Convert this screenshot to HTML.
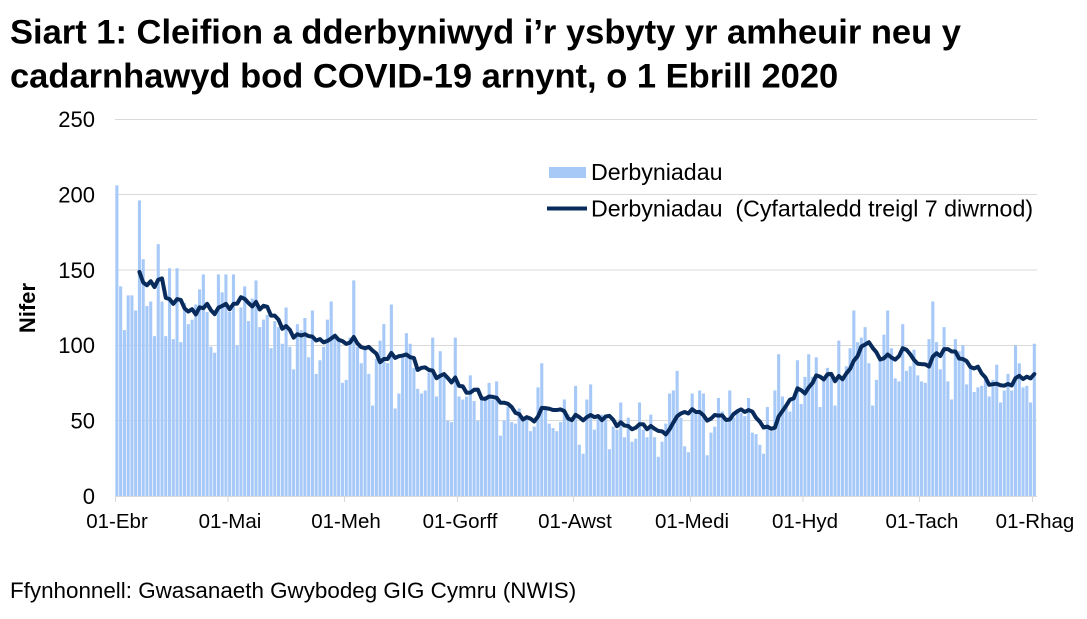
<!DOCTYPE html>
<html>
<head>
<meta charset="utf-8">
<style>
html,body{margin:0;padding:0;background:#fff;}
svg{display:block;}
text{font-family:"Liberation Sans",Arial,sans-serif;fill:#000;}
</style>
</head>
<body>
<svg width="1087" height="619" viewBox="0 0 1087 619" xmlns="http://www.w3.org/2000/svg">
<rect width="1087" height="619" fill="#fff"/>
<!-- Title -->
<text x="10" y="43.5" font-size="34.5" font-weight="bold">Siart 1: Cleifion a dderbyniwyd i’r ysbyty yr amheuir neu y</text>
<text x="10" y="87.3" font-size="34.5" font-weight="bold">cadarnhawyd bod COVID-19 arnynt, o 1 Ebrill 2020</text>

<!-- Gridlines -->
<g stroke="#d9d9d9" stroke-width="1">
<line x1="115" y1="119.5" x2="1037" y2="119.5"/>
<line x1="115" y1="194.5" x2="1037" y2="194.5"/>
<line x1="115" y1="270" x2="1037" y2="270"/>
<line x1="115" y1="345.5" x2="1037" y2="345.5"/>
<line x1="115" y1="420.5" x2="1037" y2="420.5"/>
<line x1="115" y1="496.5" x2="1037" y2="496.5"/>
</g>
<!-- Ticks -->
<g stroke="#d9d9d9" stroke-width="1">
<line x1="115.5" y1="496" x2="115.5" y2="502"/>
<line x1="228" y1="496" x2="228" y2="502"/>
<line x1="344.5" y1="496" x2="344.5" y2="502"/>
<line x1="457.5" y1="496" x2="457.5" y2="502"/>
<line x1="573.5" y1="496" x2="573.5" y2="502"/>
<line x1="690.5" y1="496" x2="690.5" y2="502"/>
<line x1="803" y1="496" x2="803" y2="502"/>
<line x1="919.5" y1="496" x2="919.5" y2="502"/>
<line x1="1032.5" y1="496" x2="1032.5" y2="502"/>
</g>

<!-- Bars -->
<g transform="translate(115.34,496) scale(3.76,-1.508)">
<path fill="#a6c9f8" d="M0 0V206h.82V0ZM1 0V139h.82V0ZM2 0V110h.82V0ZM3 0V133h.82V0ZM4 0V133h.82V0ZM5 0V123h.82V0ZM6 0V196h.82V0ZM7 0V157h.82V0ZM8 0V126h.82V0ZM9 0V129h.82V0Z
M10 0V106h.82V0ZM11 0V167h.82V0ZM12 0V129h.82V0ZM13 0V106h.82V0ZM14 0V151h.82V0ZM15 0V104h.82V0ZM16 0V151h.82V0ZM17 0V102h.82V0ZM18 0V128h.82V0ZM19 0V114h.82V0Z
M20 0V117h.82V0ZM21 0V127h.82V0ZM22 0V137h.82V0ZM23 0V147h.82V0ZM24 0V122h.82V0ZM25 0V99h.82V0ZM26 0V95h.82V0ZM27 0V147h.82V0ZM28 0V135h.82V0ZM29 0V147h.82V0Z
M30 0V122h.82V0ZM31 0V147h.82V0ZM32 0V100h.82V0ZM33 0V125h.82V0ZM34 0V139h.82V0ZM35 0V116h.82V0ZM36 0V131h.82V0ZM37 0V143h.82V0ZM38 0V112h.82V0ZM39 0V117h.82V0Z
M40 0V120h.82V0ZM41 0V98h.82V0ZM42 0V116h.82V0ZM43 0V112h.82V0ZM44 0V101h.82V0ZM45 0V125h.82V0ZM46 0V99h.82V0ZM47 0V84h.82V0ZM48 0V114h.82V0ZM49 0V110h.82V0Z
M50 0V118h.82V0ZM51 0V92h.82V0ZM52 0V123h.82V0ZM53 0V81h.82V0ZM54 0V90h.82V0ZM55 0V99h.82V0ZM56 0V117h.82V0ZM57 0V129h.82V0ZM58 0V105h.82V0ZM59 0V104h.82V0Z
M60 0V75h.82V0ZM61 0V77h.82V0ZM62 0V105h.82V0ZM63 0V143h.82V0ZM64 0V99h.82V0ZM65 0V88h.82V0ZM66 0V99h.82V0ZM67 0V81h.82V0ZM68 0V60h.82V0ZM69 0V91h.82V0Z
M70 0V103h.82V0ZM71 0V114h.82V0ZM72 0V88h.82V0ZM73 0V127h.82V0ZM74 0V58h.82V0ZM75 0V68h.82V0ZM76 0V94h.82V0ZM77 0V108h.82V0ZM78 0V101h.82V0ZM79 0V85h.82V0Z
M80 0V71h.82V0ZM81 0V68h.82V0ZM82 0V70h.82V0ZM83 0V82h.82V0ZM84 0V105h.82V0ZM85 0V66h.82V0ZM86 0V96h.82V0ZM87 0V79h.82V0ZM88 0V50h.82V0ZM89 0V49h.82V0Z
M90 0V105h.82V0ZM91 0V66h.82V0ZM92 0V64h.82V0ZM93 0V66h.82V0ZM94 0V80h.82V0ZM95 0V63h.82V0ZM96 0V50h.82V0ZM97 0V64h.82V0ZM98 0V64h.82V0ZM99 0V75h.82V0Z
M100 0V64h.82V0ZM101 0V76h.82V0ZM102 0V40h.82V0ZM103 0V50h.82V0ZM104 0V59h.82V0ZM105 0V49h.82V0ZM106 0V48h.82V0ZM107 0V58h.82V0ZM108 0V51h.82V0ZM109 0V51h.82V0Z
M110 0V43h.82V0ZM111 0V46h.82V0ZM112 0V72h.82V0ZM113 0V88h.82V0ZM114 0V57h.82V0ZM115 0V48h.82V0ZM116 0V45h.82V0ZM117 0V43h.82V0ZM118 0V49h.82V0ZM119 0V64h.82V0Z
M120 0V54h.82V0ZM121 0V49h.82V0ZM122 0V73h.82V0ZM123 0V34h.82V0ZM124 0V28h.82V0ZM125 0V64h.82V0ZM126 0V74h.82V0ZM127 0V44h.82V0ZM128 0V54h.82V0ZM129 0V54h.82V0Z
M130 0V51h.82V0ZM131 0V31h.82V0ZM132 0V46h.82V0ZM133 0V44h.82V0ZM134 0V62h.82V0ZM135 0V39h.82V0ZM136 0V52h.82V0ZM137 0V36h.82V0ZM138 0V38h.82V0ZM139 0V62h.82V0Z
M140 0V44h.82V0ZM141 0V39h.82V0ZM142 0V54h.82V0ZM143 0V39h.82V0ZM144 0V26h.82V0ZM145 0V36h.82V0ZM146 0V48h.82V0ZM147 0V68h.82V0ZM148 0V70h.82V0ZM149 0V83h.82V0Z
M150 0V52h.82V0ZM151 0V33h.82V0ZM152 0V29h.82V0ZM153 0V68h.82V0ZM154 0V55h.82V0ZM155 0V70h.82V0ZM156 0V68h.82V0ZM157 0V27h.82V0ZM158 0V42h.82V0ZM159 0V46h.82V0Z
M160 0V65h.82V0ZM161 0V56h.82V0ZM162 0V49h.82V0ZM163 0V70h.82V0ZM164 0V52h.82V0ZM165 0V55h.82V0ZM166 0V55h.82V0ZM167 0V53h.82V0ZM168 0V65h.82V0ZM169 0V42h.82V0Z
M170 0V41h.82V0ZM171 0V34h.82V0ZM172 0V28h.82V0ZM173 0V59h.82V0ZM174 0V43h.82V0ZM175 0V70h.82V0ZM176 0V94h.82V0ZM177 0V66h.82V0ZM178 0V59h.82V0ZM179 0V56h.82V0Z
M180 0V65h.82V0ZM181 0V90h.82V0ZM182 0V61h.82V0ZM183 0V79h.82V0ZM184 0V94h.82V0ZM185 0V79h.82V0ZM186 0V92h.82V0ZM187 0V59h.82V0ZM188 0V77h.82V0ZM189 0V85h.82V0Z
M190 0V81h.82V0ZM191 0V60h.82V0ZM192 0V103h.82V0ZM193 0V77h.82V0ZM194 0V86h.82V0ZM195 0V98h.82V0ZM196 0V123h.82V0ZM197 0V102h.82V0ZM198 0V105h.82V0ZM199 0V112h.82V0Z
M200 0V88h.82V0ZM201 0V60h.82V0ZM202 0V77h.82V0ZM203 0V90h.82V0ZM204 0V107h.82V0ZM205 0V123h.82V0ZM206 0V98h.82V0ZM207 0V78h.82V0ZM208 0V76h.82V0ZM209 0V114h.82V0Z
M210 0V83h.82V0ZM211 0V86h.82V0ZM212 0V97h.82V0ZM213 0V80h.82V0ZM214 0V76h.82V0ZM215 0V75h.82V0ZM216 0V104h.82V0ZM217 0V129h.82V0ZM218 0V102h.82V0ZM219 0V84h.82V0Z
M220 0V112h.82V0ZM221 0V76h.82V0ZM222 0V64h.82V0ZM223 0V104h.82V0ZM224 0V96h.82V0ZM225 0V100h.82V0ZM226 0V74h.82V0ZM227 0V85h.82V0ZM228 0V69h.82V0ZM229 0V72h.82V0Z
M230 0V73h.82V0ZM231 0V77h.82V0ZM232 0V66h.82V0ZM233 0V77h.82V0ZM234 0V87h.82V0ZM235 0V62h.82V0ZM236 0V70h.82V0ZM237 0V81h.82V0ZM238 0V70h.82V0ZM239 0V100h.82V0Z
M240 0V88h.82V0ZM241 0V72h.82V0ZM242 0V73h.82V0ZM243 0V62h.82V0ZM244 0V101h.82V0Z"/>
</g>

<!-- 7-day rolling average (values are 7-day sums, scaled by 1/7) -->
<g transform="translate(116.88,496) scale(3.76,-0.215429)">
<polyline fill="none" stroke="#082b5c" stroke-width="4" stroke-linejoin="round" stroke-linecap="round" vector-effect="non-scaling-stroke" points="6,1040 7,991 8,978 9,997 10,970 11,1004 12,1010 13,920 14,914 15,892 16,914 17,910 18,871 19,856 20,867 21,843 22,876 23,872 24,892 25,863 26,844 27,874 28,882 29,892 30,867 31,892 32,893 33,923 34,915 35,896 36,880 37,901 38,866 39,883 40,878 41,837 42,837 43,818 44,776 45,789 46,771 47,735 48,751 49,745 50,751 51,742 52,740 53,722 54,728 55,713 56,720 57,731 58,744 59,725 60,719 61,706 62,712 63,738 64,708 65,691 66,686 67,692 68,675 69,661 70,621 71,636 72,636 73,664 74,641 75,649 76,652 77,657 78,644 79,641 80,585 81,595 82,597 83,585 84,582 85,547 86,558 87,566 88,548 89,527 90,550 91,511 92,509 93,479 94,480 95,493 96,494 97,453 98,451 99,462 100,460 101,456 102,433 103,433 104,428 105,413 106,386 107,380 108,355 109,366 110,359 111,346 112,369 113,409 114,408 115,405 116,399 117,399 118,402 119,394 120,360 121,352 122,377 123,366 124,351 125,366 126,376 127,366 128,371 129,352 130,369 131,372 132,354 133,324 134,342 135,327 136,325 137,310 138,317 139,333 140,333 141,310 142,325 143,312 144,302 145,300 146,286 147,310 148,341 149,370 150,383 151,390 152,383 153,403 154,390 155,390 156,375 157,350 158,359 159,376 160,373 161,374 162,353 163,355 164,380 165,393 166,402 167,390 168,399 169,392 170,363 171,345 172,318 173,322 174,312 175,317 176,369 177,394 178,419 179,447 180,453 181,500 182,491 183,476 184,504 185,524 186,560 187,554 188,541 189,565 190,567 191,533 192,557 193,542 194,569 195,590 196,628 197,649 198,694 199,703 200,714 201,688 202,667 203,634 204,639 205,657 206,643 207,633 208,649 209,686 210,679 211,658 212,632 213,614 214,612 215,611 216,601 217,647 218,663 219,650 220,682 221,682 222,671 223,671 224,638 225,636 226,626 227,599 228,592 229,600 230,569 231,550 232,516 233,519 234,521 235,514 236,512 237,520 238,513 239,547 240,558 241,543 242,554 243,546 244,566"/>
</g>

<!-- Y axis labels -->
<g font-size="22" text-anchor="end">
<text x="95" y="127">250</text>
<text x="95" y="202.4">200</text>
<text x="95" y="277.8">150</text>
<text x="95" y="353.2">100</text>
<text x="95" y="428.6">50</text>
<text x="95" y="504">0</text>
</g>
<text x="35" y="308" font-size="22" font-weight="bold" text-anchor="middle" transform="rotate(-90,35,308)">Nifer</text>

<!-- X axis labels -->
<g font-size="20.5" text-anchor="middle">
<text x="117" y="528">01-Ebr</text>
<text x="230" y="528">01-Mai</text>
<text x="346" y="528">01-Meh</text>
<text x="460" y="528">01-Gorff</text>
<text x="575" y="528">01-Awst</text>
<text x="692" y="528">01-Medi</text>
<text x="805" y="528">01-Hyd</text>
<text x="922" y="528">01-Tach</text>
<text x="1035" y="528">01-Rhag</text>
</g>

<!-- Legend -->
<rect x="549" y="167" width="37" height="11" fill="#a6c9f8"/>
<text x="591" y="180" font-size="23.2">Derbyniadau</text>
<line x1="547" y1="208.5" x2="587" y2="208.5" stroke="#082b5c" stroke-width="4"/>
<text x="591" y="216.7" font-size="23.2">Derbyniadau&#160; (Cyfartaledd treigl 7 diwrnod)</text>

<!-- Source -->
<text x="10" y="598" font-size="22.4">Ffynhonnell: Gwasanaeth Gwybodeg GIG Cymru (NWIS)</text>
</svg>
</body>
</html>
